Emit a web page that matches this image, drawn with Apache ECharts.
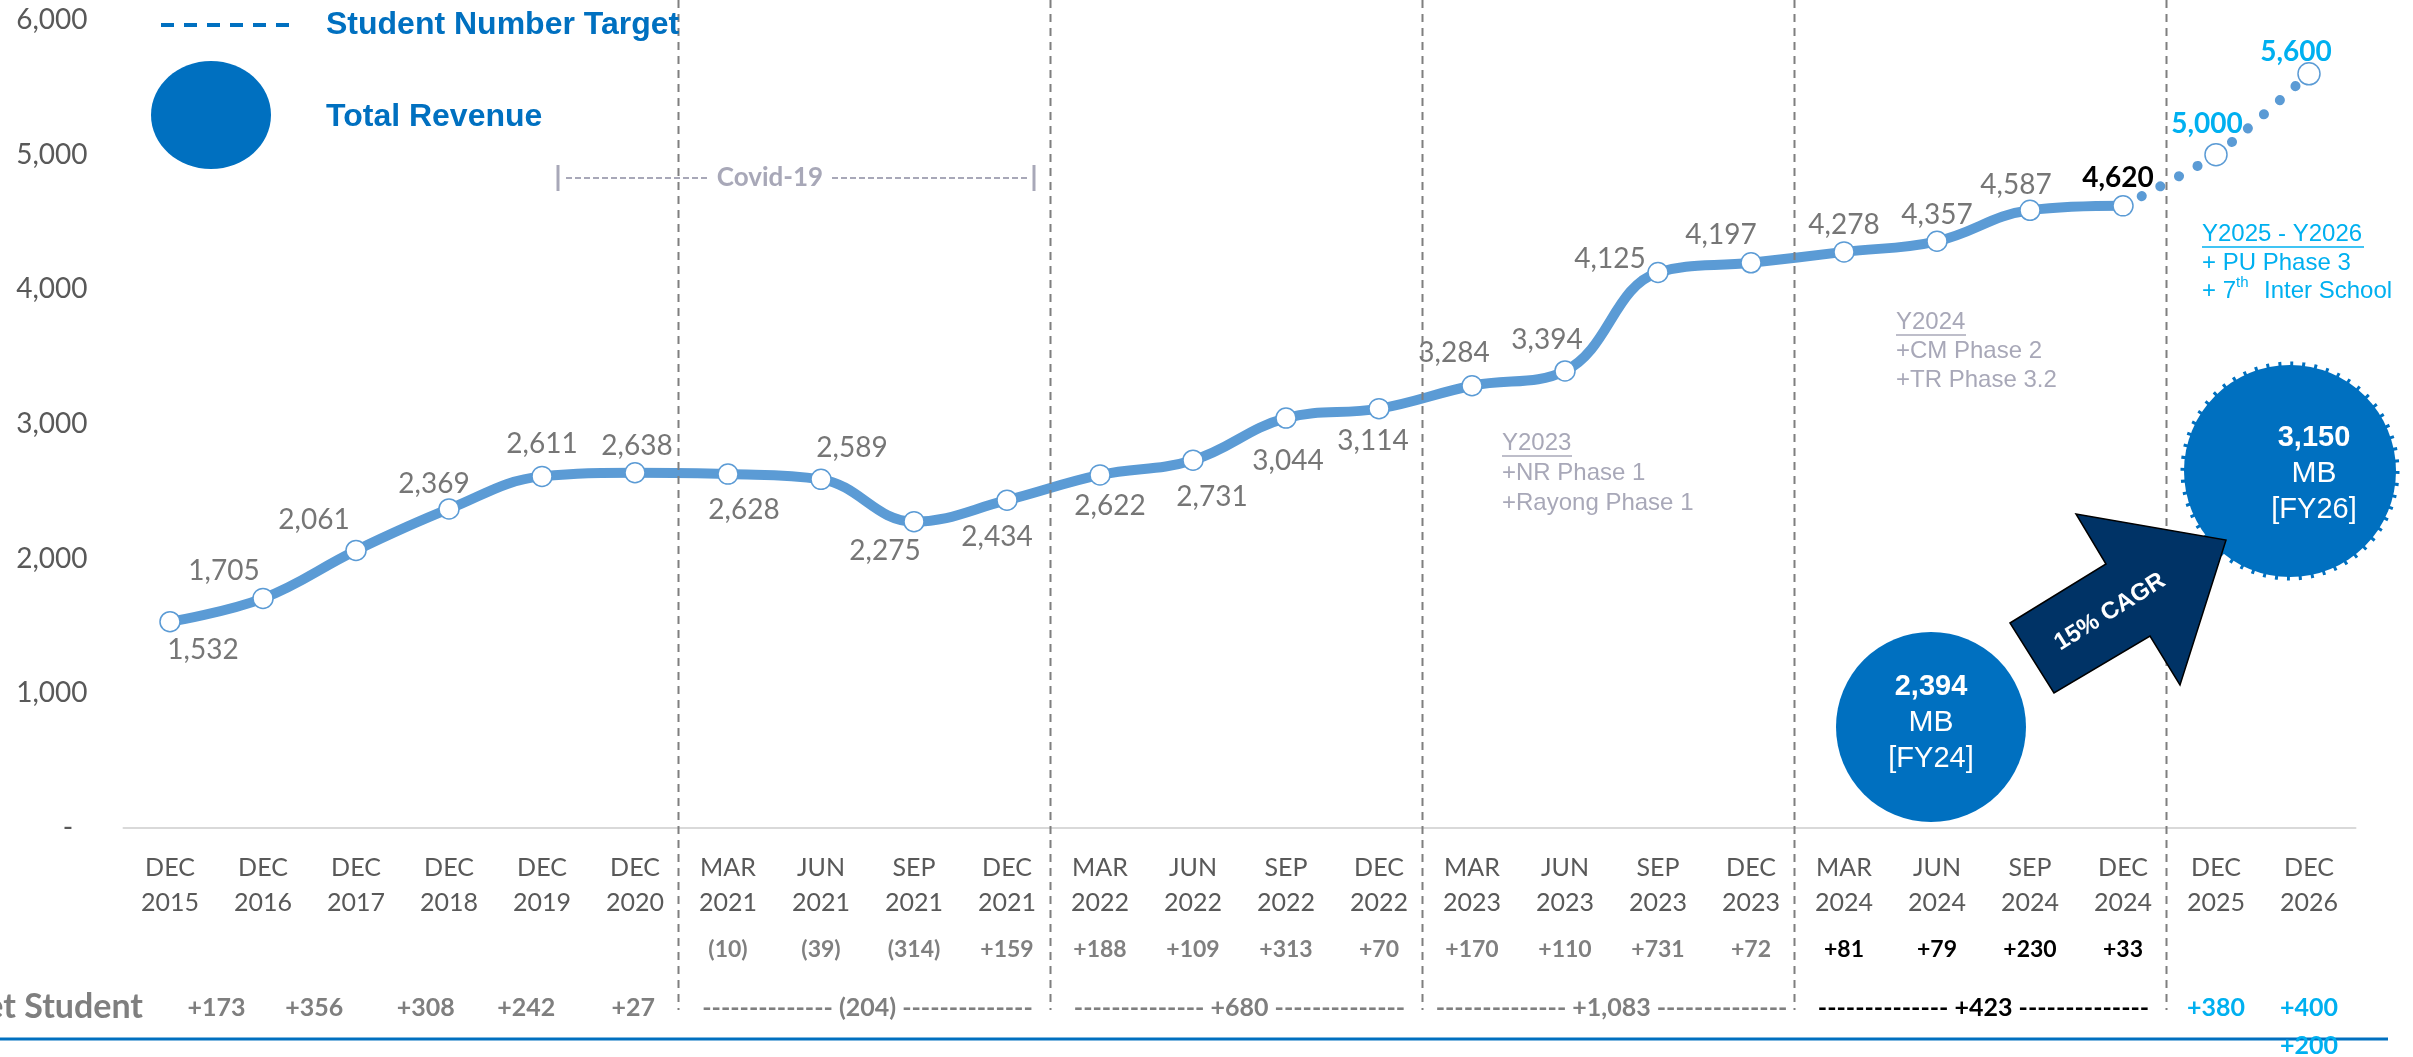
<!DOCTYPE html>
<html>
<head>
<meta charset="utf-8">
<title>Student Number</title>
<script src="https://cdn.jsdelivr.net/npm/echarts@6/dist/echarts.min.js"></script>
<style>
  html, body { margin: 0; padding: 0; background: #fff; }
  #chart { width: 2413px; height: 1057px; }
</style>
</head>
<body>
<div id="chart"></div>
<script>
// x axis periods
const months = ['DEC', 'DEC', 'DEC', 'DEC', 'DEC', 'DEC',
  'MAR', 'JUN', 'SEP', 'DEC', 'MAR', 'JUN', 'SEP', 'DEC',
  'MAR', 'JUN', 'SEP', 'DEC', 'MAR', 'JUN', 'SEP', 'DEC', 'DEC', 'DEC'];
const years = ['2015', '2016', '2017', '2018', '2019', '2020',
  '2021', '2021', '2021', '2021', '2022', '2022', '2022', '2022',
  '2023', '2023', '2023', '2023', '2024', '2024', '2024', '2024', '2025', '2026'];

// total students (last two are targets)
const students = [1532, 1705, 2061, 2369, 2611, 2638, 2628, 2589, 2275, 2434,
  2622, 2731, 3044, 3114, 3284, 3394, 4125, 4197, 4278, 4357, 4587, 4620, 5000, 5600];
const lastActual = 21;

// y axis ticks
const yTicks = [0, 1000, 2000, 3000, 4000, 5000, 6000];

// change rows under the axis
const quarterChange = ['', '', '', '', '', '', '(10)', '(39)', '(314)', '+159',
  '+188', '+109', '+313', '+70', '+170', '+110', '+731', '+72', '+81', '+79', '+230', '+33', '', ''];
const netYearly = ['+173', '+356', '+308', '+242', '+27'];
const netGroups = ['(204)', '+680', '+1,083', '+423'];
const netTarget = ['+380', '+400'];
const netTargetExtra = '+200';

// revenue bubbles
const revenueFY24 = '2,394';
const revenueFY26 = '3,150';

// where each point label sits relative to its point (px)
const labelNudge = [[33, 28], [-39, -27], [-42, -30], [-15, -25], [0, -32], [2, -27],
  [16, 36], [31, -31], [-29, 29], [-10, 37], [10, 31], [19, 37], [2, 43], [-6, 32],
  [-18, -33], [-18, -31], [-48, -14], [-30, -28], [0, -27], [0, -26], [-14, -25],
  [-5, -28], [-9, -31], [-13, -22]];

const BLUE = '#5B9BD5';
const DARK_BLUE = '#0070C0';
const CYAN = '#00B0F0';
const NOTE = '#A8A8B8';
const CAL = 'Lato';
const ARIAL = '"Liberation Sans", Arial, sans-serif';

const fmt = v => Number(v).toLocaleString('en-US');

const actualData = students.map((v, i) => {
  if (i > lastActual) return '-';
  const item = { value: v, label: { offset: labelNudge[i] } };
  if (i === lastActual) {
    item.label.color = '#000';
    item.label.fontWeight = 'bold';
  }
  return item;
});

const targetData = students.map((v, i) => {
  if (i < lastActual) return '-';
  if (i === lastActual) return { value: v, symbol: 'none', label: { show: false } };
  return { value: v, label: { offset: labelNudge[i] } };
});

const option = {
  animation: false,
  backgroundColor: '#fff',
  grid: { left: 123.5, right: 57.5, top: 20, bottom: 229 },
  xAxis: {
    type: 'category',
    data: months.map((m, i) => m + '\n' + years[i]),
    boundaryGap: true,
    axisLine: { lineStyle: { color: '#D9D9D9', width: 2 } },
    axisTick: { show: false },
    axisLabel: {
      interval: 0, margin: 22, color: '#595959',
      fontFamily: CAL, fontSize: 25, lineHeight: 35
    },
    splitLine: { show: false }
  },
  yAxis: {
    type: 'value',
    min: yTicks[0], max: yTicks[yTicks.length - 1], interval: 1000,
    axisLine: { show: false },
    axisTick: { show: false },
    splitLine: { show: false },
    axisLabel: {
      margin: 36, color: '#595959', fontFamily: CAL, fontSize: 28,
      formatter: v => v === 0 ? '-  ' : fmt(v)
    }
  },
  series: [
    {
      name: 'Student Number Target',
      type: 'line',
      data: targetData,
      smooth: 0.2,
      symbol: 'circle',
      symbolSize: 22,
      z: 2,
      lineStyle: { color: BLUE, width: 10, type: [0.1, 21], cap: 'round' },
      itemStyle: { color: '#fff', borderColor: BLUE, borderWidth: 1.5 },
      label: {
        show: true, position: 'inside', color: CYAN, fontWeight: 'bold',
        fontFamily: CAL, fontSize: 28, formatter: p => fmt(p.value)
      },
      emphasis: { disabled: true }
    },
    {
      name: 'Student Number',
      type: 'line',
      data: actualData,
      smooth: 0.4,
      symbol: 'circle',
      symbolSize: 20,
      z: 3,
      lineStyle: { color: BLUE, width: 10 },
      itemStyle: { color: '#fff', borderColor: BLUE, borderWidth: 1.5 },
      label: {
        show: true, position: 'inside', color: '#767676',
        fontFamily: CAL, fontSize: 28, formatter: p => fmt(p.value)
      },
      emphasis: { disabled: true }
    }
  ]
};

const chart = echarts.init(document.getElementById('chart'));
chart.setOption(option);

// ---- annotations drawn around the plot ----
const px = i => chart.convertToPixel({ xAxisIndex: 0 }, i);
const step = px(1) - px(0);

function text(x, y, str, font, fill, align) {
  return {
    type: 'text', x: x, y: y, silent: true, z: 20,
    style: {
      text: str, font: font, fill: fill,
      align: align || 'center', verticalAlign: 'middle',
      textAlign: align || 'center', textVerticalAlign: 'middle'
    }
  };
}
function line(x1, y1, x2, y2, stroke, width, dash) {
  return {
    type: 'line', silent: true, z: 15,
    shape: { x1: x1, y1: y1, x2: x2, y2: y2 },
    style: { stroke: stroke, lineWidth: width, lineDash: dash || null }
  };
}

const els = [];

// period separators
[6, 10, 14, 18, 22].forEach(i => {
  const x = (px(i - 1) + px(i)) / 2 - 3;
  els.push(line(x, 0, x, 1010, '#7F7F7F', 2, [8, 6]));
});

// quarterly change row
quarterChange.forEach((s, i) => {
  if (!s) return;
  const col = years[i] === '2024' ? '#000' : '#808080';
  els.push(text(px(i), 950, s, 'bold 23px ' + CAL, col));
});

// net student row
els.push(text(143, 1007, 'Net Student', 'bold 34px ' + CAL, '#7F7F7F', 'right'));
const yearlyPos = [0.5, 1.55, 2.75, 3.83, 4.98];
netYearly.forEach((s, k) => {
  els.push(text(px(0) + yearlyPos[k] * step, 1008, s, 'bold 25px ' + CAL, '#7F7F7F'));
});
netGroups.forEach((s, k) => {
  const c = (px(6 + 4 * k) + px(9 + 4 * k)) / 2;
  const col = k === 3 ? '#000' : '#7F7F7F';
  els.push(text(c, 1008, '-------------- ' + s + ' --------------', 'bold 25px ' + CAL, col));
});
netTarget.forEach((s, k) => {
  els.push(text(px(22 + k), 1008, s, 'bold 25px ' + CAL, CYAN));
});
els.push(text(px(23), 1046, netTargetExtra, 'bold 25px ' + CAL, CYAN));
els.push(line(0, 1039, 2388, 1039, DARK_BLUE, 3));

// legend
els.push(line(161, 25, 290, 25, DARK_BLUE, 4, [13, 10]));
els.push(text(326, 25, 'Student Number Target', 'bold 32px ' + ARIAL, DARK_BLUE, 'left'));
els.push({ type: 'ellipse', silent: true, z: 15, shape: { cx: 211, cy: 115, rx: 60, ry: 54 }, style: { fill: DARK_BLUE } });
els.push(text(326, 117, 'Total Revenue', 'bold 32px ' + ARIAL, DARK_BLUE, 'left'));

// covid bracket
els.push(line(558, 165, 558, 191, NOTE, 3));
els.push(line(1034, 165, 1034, 191, NOTE, 3));
els.push(line(566, 178, 708, 178, NOTE, 2, [6, 3]));
els.push(line(832, 178, 1028, 178, NOTE, 2, [6, 3]));
els.push(text(770, 178, 'Covid-19', 'bold 26px ' + CAL, NOTE));

// expansion notes
const noteFont = '24px ' + ARIAL;
els.push(text(1502, 443, 'Y2023', noteFont, NOTE, 'left'));
els.push(line(1502, 456, 1572, 456, NOTE, 1.5));
els.push(text(1502, 473, '+NR Phase 1', noteFont, NOTE, 'left'));
els.push(text(1502, 503, '+Rayong Phase 1', noteFont, NOTE, 'left'));

els.push(text(1896, 322, 'Y2024', noteFont, NOTE, 'left'));
els.push(line(1896, 335, 1966, 335, NOTE, 1.5));
els.push(text(1896, 351, '+CM Phase 2', noteFont, NOTE, 'left'));
els.push(text(1896, 380, '+TR Phase 3.2', noteFont, NOTE, 'left'));

els.push(text(2202, 234, 'Y2025 - Y2026', '24px ' + ARIAL, CYAN, 'left'));
els.push(line(2202, 247, 2364, 247, CYAN, 1.5));
els.push(text(2202, 263, '+ PU Phase 3', '24px ' + ARIAL, CYAN, 'left'));
els.push(text(2202, 291, '+ 7', '24px ' + ARIAL, CYAN, 'left'));
els.push(text(2236, 283, 'th', '15px ' + ARIAL, CYAN, 'left'));
els.push(text(2264, 291, 'Inter School', '24px ' + ARIAL, CYAN, 'left'));

// revenue bubbles and CAGR arrow
els.push({ type: 'circle', silent: true, z: 15, shape: { cx: 1931, cy: 727, r: 95 }, style: { fill: DARK_BLUE } });
els.push(text(1931, 687, revenueFY24, 'bold 29px ' + ARIAL, '#fff'));
els.push(text(1931, 723, 'MB', '30px ' + ARIAL, '#fff'));
els.push(text(1931, 759, '[FY24]', '29px ' + ARIAL, '#fff'));

els.push({ type: 'circle', silent: true, z: 15, shape: { cx: 2290, cy: 471, r: 106 }, style: { fill: DARK_BLUE } });
els.push({ type: 'circle', silent: true, z: 15, shape: { cx: 2290, cy: 471, r: 107 }, style: { fill: null, stroke: DARK_BLUE, lineWidth: 5, lineDash: [3, 9] } });
els.push(text(2314, 438, revenueFY26, 'bold 29px ' + ARIAL, '#fff'));
els.push(text(2314, 474, 'MB', '30px ' + ARIAL, '#fff'));
els.push(text(2314, 510, '[FY26]', '29px ' + ARIAL, '#fff'));

els.push({
  type: 'polygon', silent: true, z: 15,
  shape: { points: [[2010, 623], [2106, 564], [2076, 514], [2226, 540], [2180, 685], [2150, 636], [2054, 693]] },
  style: { fill: '#003366', stroke: '#000', lineWidth: 1.5 }
});
els.push({
  type: 'text', silent: true, z: 20, x: 2110, y: 612, rotation: 32 * Math.PI / 180,
  style: {
    text: '15% CAGR', font: 'bold 24px ' + ARIAL, fill: '#fff',
    align: 'center', verticalAlign: 'middle', textAlign: 'center', textVerticalAlign: 'middle'
  }
});

chart.setOption({ graphic: { elements: els } });
</script>
</body>
</html>
